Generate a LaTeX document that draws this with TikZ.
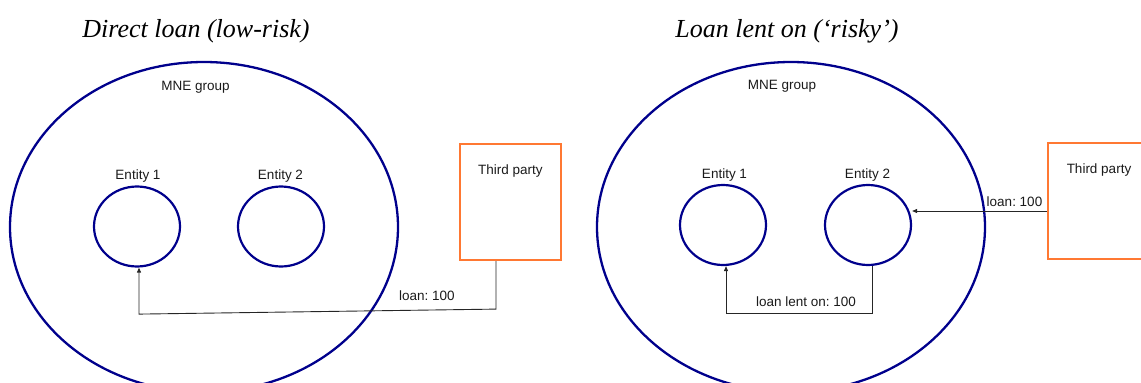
\documentclass[tikz,border=0pt]{standalone}
\usepackage{fontspec}
\setmainfont{Liberation Serif}
\setsansfont{Liberation Sans}
\usetikzlibrary{shapes.geometric,arrows.meta}
\definecolor{navy}{RGB}{0,0,140}
\definecolor{tporange}{RGB}{255,120,50}
\definecolor{txt}{RGB}{26,26,26}
\frenchspacing
\begin{document}
\begin{tikzpicture}[x=1pt,y=-1pt,
  grp/.style={ellipse,draw=navy,line width=2.3pt,minimum width=388pt,minimum height=330pt,inner sep=0},
  ent/.style={ellipse,draw=navy,line width=2.2pt,minimum width=86pt,minimum height=80pt,inner sep=0},
  party/.style={rectangle,draw=tporange,line width=2.2pt,minimum width=101pt,minimum height=116pt,inner sep=0},
  lbl/.style={font=\sffamily\fontsize{13.5}{16}\selectfont,text=txt,inner sep=0,anchor=base},
  ttl/.style={font=\itshape\fontsize{26}{30}\selectfont,inner sep=0,anchor=base},
  conn/.style={draw=black!85,line width=0.9pt},
  arr/.style={conn,-{Triangle[length=5pt,width=4pt]}}]
\useasboundingbox (0,0) rectangle (1141,383);
\clip (0,0) rectangle (1141,383);
% left diagram
\node[grp] (g1) at (204,227) {};
\node[ent] (a1) at (137,226.5) {};
\node[ent] (b1) at (281,226.5) {};
\node[party] (t1) at (510.5,202) {};
\node[ttl] (ti1) at (196,37) {Direct loan (low-risk)};
\node[lbl] (m1) at (195.5,90.5) {MNE group};
\node[lbl] (la1) at (138,179) {Entity 1};
\node[lbl] (lb1) at (280.5,179) {Entity 2};
\node[lbl] (lt1) at (510.5,174) {Third party};
\node[lbl] (ll1) at (427,300) {loan: 100};
\draw[arr] ([xshift=-14.5pt]t1.south) -- ++(0,48) -- ([xshift=2pt,yshift=-46.5pt]a1.south) -- ([xshift=2pt]a1.south);
% right diagram
\node[grp] (g2) at (791,227) {};
\node[ent] (a2) at (723,225) {};
\node[ent] (b2) at (868,225) {};
\node[party] (t2) at (1098.5,201) {};
\node[ttl] (ti2) at (787,37) {Loan lent on (‘risky’)};
\node[lbl] (m2) at (782,89) {MNE group};
\node[lbl] (la2) at (724.5,178) {Entity 1};
\node[lbl] (lb2) at (867.5,178) {Entity 2};
\node[lbl] (lt2) at (1099,173) {Third party};
\node[lbl] (ll2) at (1014.5,206) {loan: 100};
\node[lbl] (ll3) at (806,306) {loan lent on: 100};
\draw[arr] ([yshift=-10pt]t2.west) -- ([yshift=-10pt]t2.west -| b2.east);
\draw[arr] ([xshift=4pt]b2.south) -- ++(0,47) -- ([xshift=3pt,yshift=-47pt]a2.south) -- ([xshift=3pt]a2.south);
\end{tikzpicture}
\end{document}
